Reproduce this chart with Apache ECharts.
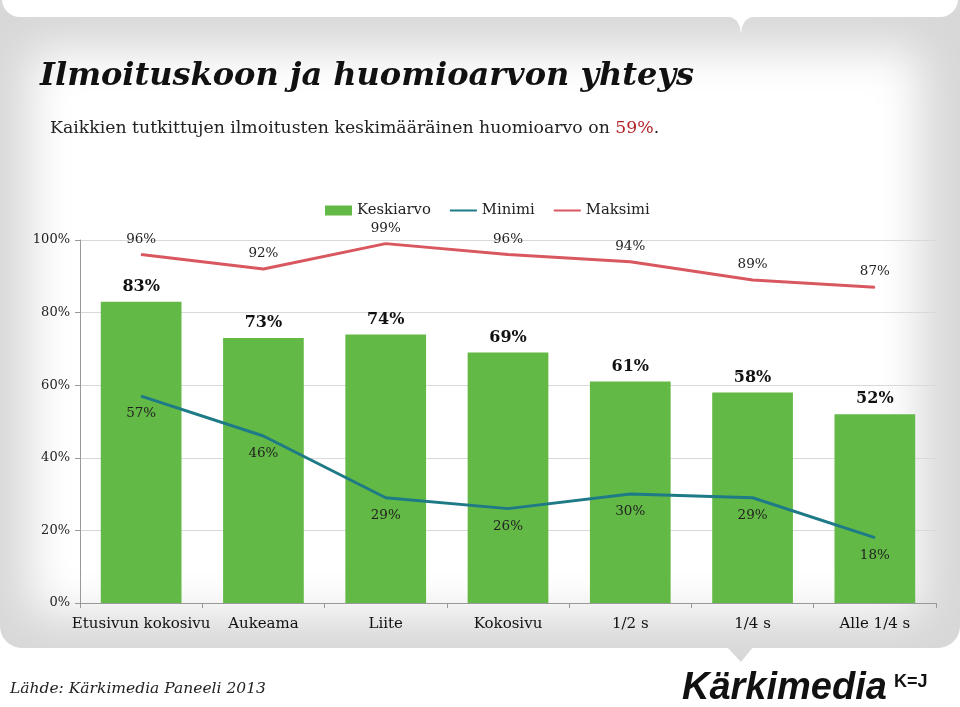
<!DOCTYPE html>
<html><head><meta charset="utf-8">
<script src="https://cdn.jsdelivr.net/npm/echarts@6/dist/echarts.min.js"></script>
<style>html,body{margin:0;padding:0;background:#fff}#c{width:960px;height:707px}</style>
</head><body><div id="c"></div>
<script>
const categories = ['Etusivun kokosivu','Aukeama','Liite','Kokosivu','1/2 s','1/4 s','Alle 1/4 s'];
const keskiarvo = [83,73,74,69,61,58,52];
const minimi = [57,46,29,26,30,29,18];
const maksimi = [96,92,99,96,94,89,87];
const yTicks = [0,20,40,60,80,100];

const serif = '"DejaVu Serif", "Liberation Serif", serif';
const chart = echarts.init(document.getElementById('c'), null, {renderer:'canvas'});
chart.setOption({
  backgroundColor:'#fff',
  animation:false,
  graphic:[
    {type:'rect', z:-10, silent:true, shape:{x:0,y:0,width:960,height:648,r:[0,0,22,22]},
      style:{fill:'#d8d8d8'}},
    {type:'polygon', z:-10, silent:true, shape:{points:[[726,646],[754,646],[741,662]]}, style:{fill:'#d8d8d8'}},
    {type:'rect', z:-9, silent:true, shape:{x:2030,y:50,width:890,height:565,r:10},
      style:{fill:'#fff', shadowBlur:45, shadowColor:'#fff', shadowOffsetX:-2000}},
    {type:'rect', z:-8, silent:true, shape:{x:2,y:-30,width:956,height:47,r:[0,0,18,18]}, style:{fill:'#fff'}},
    {type:'polygon', z:-8, silent:true, shape:{points:[[722,16],[732,17.5],[737,21],[740,27],[741,34],[742,27],[745,21],[750,17.5],[760,16]]}, style:{fill:'#fff'}},
    {type:'text', left:40, top:61, style:{text:'Ilmoituskoon ja huomioarvon yhteys', font:'italic bold 32px '+serif, fill:'#111'}},
    {type:'text', left:50, top:120, style:{text:'Kaikkien tutkittujen ilmoitusten keskimääräinen huomioarvo on {r|59%}.', font:'17.3px '+serif, fill:'#222',
      rich:{r:{fill:'#b3262b', font:'17.3px '+serif}}}},
    {type:'text', left:10, top:681, style:{text:'Lähde: Kärkimedia Paneeli 2013', font:'italic 15.5px '+serif, fill:'#222'}},
    {type:'text', left:682, top:670, style:{text:'Kärkimedia', font:'italic bold 38px "Liberation Sans Narrow", "Liberation Sans", sans-serif', fill:'#111'}},
    {type:'text', left:894, top:673, style:{text:'K=J', font:'bold 18px "Liberation Sans", sans-serif', fill:'#111'}}
  ],
  legend:{
    top:198, left:320, itemGap:18, itemWidth:27, itemHeight:10,
    textStyle:{fontFamily:serif, fontSize:14.8, color:'#222'},
    data:[{name:'Keskiarvo', icon:'rect'},{name:'Minimi', itemStyle:{opacity:0}},{name:'Maksimi', itemStyle:{opacity:0}}]
  },
  grid:{left:80, right:24, top:240, bottom:104},
  xAxis:{
    type:'category', data:categories,
    axisLine:{lineStyle:{color:'#999'}},
    axisTick:{show:true, length:5, lineStyle:{color:'#999'}},
    axisLabel:{fontFamily:serif, fontSize:15, color:'#111', margin:14, interval:0}
  },
  yAxis:{
    type:'value', min:0, max:100, interval:20,
    axisLine:{show:true, lineStyle:{color:'#999'}},
    axisTick:{show:true, length:5, lineStyle:{color:'#999'}},
    axisLabel:{formatter:'{value}%', fontFamily:serif, fontSize:13, color:'#222', margin:10},
    splitLine:{lineStyle:{color:'#d9d9d9'}}
  },
  series:[
    {name:'Keskiarvo', type:'bar', data:keskiarvo, barWidth:'66%', itemStyle:{color:'#63b946'},
      label:{show:true, position:'top', distance:7, formatter:'{c}%', fontFamily:serif, fontWeight:'bold', fontSize:16, color:'#111'}},
    {name:'Minimi', type:'line', data:minimi, symbol:'circle', symbolSize:1, color:'#1d7a86',
      lineStyle:{width:3, color:'#1d7a86'},
      label:{show:true, position:'bottom', distance:10, formatter:'{c}%', fontFamily:serif, fontSize:13.5, color:'#222'}},
    {name:'Maksimi', type:'line', data:maksimi, symbol:'circle', symbolSize:1, color:'#d9585f',
      lineStyle:{width:3, color:'#d9585f'},
      label:{show:true, position:'top', distance:8, formatter:'{c}%', fontFamily:serif, fontSize:13.5, color:'#222'}}
  ]
});
</script></body></html>
